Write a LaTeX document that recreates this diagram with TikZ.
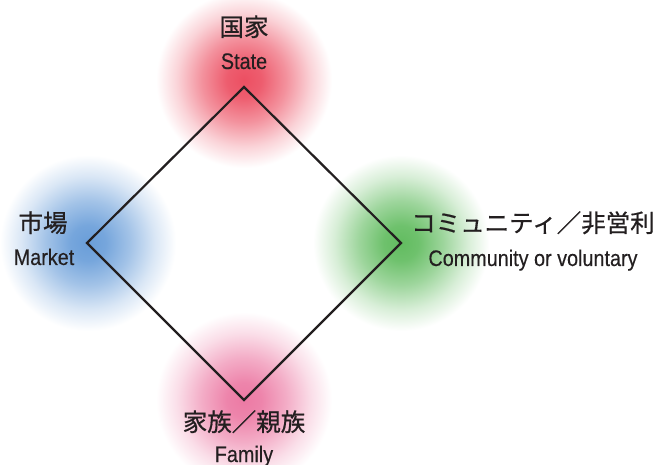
\documentclass[tikz,border=0pt]{standalone}
\usepackage{fontspec}
\newfontfamily\enfont{Liberation Sans}[FakeStretch=0.88,FakeBold=0.3]
\newfontfamily\jpfont{Noto Sans CJK JP}[FakeBold=0.6]
\definecolor{txt}{HTML}{231F20}
\definecolor{cred}{HTML}{EC4F62}
\definecolor{cblue}{HTML}{6A9ED9}
\definecolor{cgreen}{HTML}{62BC60}
\definecolor{cpink}{HTML}{EC7AA4}
\pgfdeclareradialshading{glowred}{\pgfpoint{0bp}{0bp}}{color(0bp)=(cred); color(5bp)=(cred!92!white); color(12bp)=(cred!62!white); color(19bp)=(cred!25!white); color(25bp)=(white); color(50bp)=(white)}
\pgfdeclareradialshading{glowblue}{\pgfpoint{0bp}{0bp}}{color(0bp)=(cblue); color(5bp)=(cblue!92!white); color(12bp)=(cblue!62!white); color(19bp)=(cblue!25!white); color(25bp)=(white); color(50bp)=(white)}
\pgfdeclareradialshading{glowgreen}{\pgfpoint{0bp}{0bp}}{color(0bp)=(cgreen); color(5bp)=(cgreen!92!white); color(12bp)=(cgreen!62!white); color(19bp)=(cgreen!25!white); color(25bp)=(white); color(50bp)=(white)}
\pgfdeclareradialshading{glowpink}{\pgfpoint{0bp}{0bp}}{color(0bp)=(cpink); color(5bp)=(cpink!92!white); color(12bp)=(cpink!62!white); color(19bp)=(cpink!25!white); color(25bp)=(white); color(50bp)=(white)}
\begin{document}
\begin{tikzpicture}[x=1bp,y=-1bp,
  jp/.style={font=\jpfont\fontsize{24.5bp}{28bp}\selectfont, text=txt, inner sep=0pt, anchor=base},
  en/.style={font=\enfont\fontsize{22.5bp}{26bp}\selectfont, text=txt, inner sep=0pt, anchor=base},
  edge/.style={draw=txt, line width=2.2bp, line join=miter}]
\useasboundingbox (0,0) rectangle (658,465);
\fill[white] (0,0) rectangle (658,465);
% glows
\shade[shading=glowred] (244,80) circle[radius=88];
\shade[shading=glowblue] (88,243) circle[radius=88];
\shade[shading=glowgreen] (401,243) circle[radius=88];
\shade[shading=glowpink] (244,400) circle[radius=88];
% diamond corners
\coordinate (top) at (244,87);
\coordinate (left) at (87,243);
\coordinate (right) at (401,243);
\coordinate (bottom) at (244,400);
\draw[edge] (top) -- (right) -- (bottom) -- (left) -- cycle;
% labels
\node[jp] (stateJ) at (244,36) {国家};
\node[en] (stateE) at (244,69) {State};
\node[jp] (marketJ) at (43,232) {市場};
\node[en] (marketE) at (44,265) {Market};
\node[jp] (commJ) at (533,232) {コミュニティ／非営利};
\node[en] (commE) at (533,266) {Community or voluntary};
\node[jp] (famJ) at (244,431) {家族／親族};
\node[en] (famE) at (244,462) {Family};
\end{tikzpicture}
\end{document}
